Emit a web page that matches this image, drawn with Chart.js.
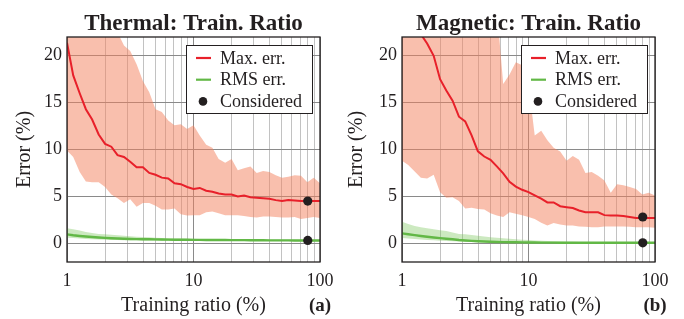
<!DOCTYPE html>
<html lang="en">
<head>
<meta charset="UTF-8">
<title>Train. Ratio</title>
<script src="https://cdn.jsdelivr.net/npm/chart.js"></script>
<style>
  body { margin: 0; background: #fff; }
  .wrap { position: relative; width: 684px; height: 319px; }
  canvas { position: absolute; top: 0; }
  #thermalChart { left: 0; }
  #magneticChart { left: 338px; }
</style>
</head>
<body>
<div class="wrap">
  <canvas id="thermalChart" width="342" height="319"></canvas>
  <canvas id="magneticChart" width="346" height="319"></canvas>
</div>
<script>
// training ratio (%) of each run, log spaced
const ratios = [1, 1.12, 1.26, 1.41, 1.58, 1.78, 2, 2.24, 2.51, 2.82, 3.16, 3.55, 3.98, 4.47, 5.01, 5.62, 6.31, 7.08, 7.94, 8.91,
                10, 11.2, 12.6, 14.1, 15.8, 17.8, 20, 22.4, 25.1, 28.2, 31.6, 35.5, 39.8, 44.7, 50.1, 56.2, 63.1, 70.8, 79.4, 89.1, 100];

// thermal
const thermalMax   = [21.4, 17.9, 16.0, 14.3, 13.2, 11.6, 10.6, 10.3, 9.4, 9.2, 8.7, 8.1, 8.1, 7.5, 7.3, 7.0, 6.9, 6.4, 6.3, 6.0,
                      5.8, 5.9, 5.6, 5.5, 5.3, 5.2, 5.2, 5.0, 5.1, 4.9, 4.85, 4.8, 4.75, 4.6, 4.5, 4.6, 4.55, 4.5, 4.5, 4.5, 4.5];
const thermalMaxHi = [26, 26, 26, 26, 26, 26, 26, 26, 22.5, 21.1, 20.5, 19.1, 17.3, 16.1, 14.3, 14.0, 13.1, 12.6, 12.7, 12.2,
                      12.6, 11.5, 10.5, 10.2, 9.0, 8.6, 9.0, 7.8, 8.0, 8.2, 7.5, 7.7, 7.6, 7.25, 7.0, 7.1, 7.25, 7.2, 6.5, 7.0, 6.4];
const thermalMaxLo = [9.9, 9.2, 7.6, 6.6, 6.5, 6.5, 6.0, 5.2, 4.8, 4.3, 4.7, 3.9, 4.3, 4.3, 4.0, 3.6, 3.6, 3.7, 3.1, 2.95,
                      3.0, 3.0, 3.3, 3.4, 3.2, 3.0, 3.0, 3.0, 2.9, 2.8, 2.75, 2.85, 2.85, 2.8, 2.75, 2.75, 2.8, 2.6, 2.7, 2.8, 2.7];
const thermalRms   = [0.95, 0.85, 0.78, 0.72, 0.66, 0.61, 0.57, 0.53, 0.5, 0.48, 0.46, 0.44, 0.43, 0.42, 0.41, 0.4, 0.39, 0.38, 0.37, 0.37,
                      0.36, 0.36, 0.35, 0.35, 0.34, 0.34, 0.33, 0.33, 0.33, 0.32, 0.32, 0.32, 0.31, 0.31, 0.31, 0.31, 0.3, 0.3, 0.3, 0.3, 0.3];
const thermalRmsHi = [1.6, 1.5, 1.35, 1.2, 1.1, 1.0, 0.95, 0.9, 0.85, 0.8, 0.75, 0.7, 0.66, 0.63, 0.6, 0.57, 0.55, 0.52, 0.5, 0.49,
                      0.47, 0.46, 0.45, 0.44, 0.43, 0.42, 0.41, 0.41, 0.4, 0.4, 0.39, 0.39, 0.38, 0.38, 0.37, 0.37, 0.37, 0.36, 0.36, 0.36, 0.36];
const thermalRmsLo = [0.6, 0.55, 0.5, 0.46, 0.43, 0.4, 0.38, 0.36, 0.34, 0.33, 0.32, 0.31, 0.3, 0.29, 0.28, 0.28, 0.27, 0.27, 0.26, 0.26,
                      0.26, 0.25, 0.25, 0.25, 0.25, 0.24, 0.24, 0.24, 0.24, 0.24, 0.24, 0.23, 0.23, 0.23, 0.23, 0.23, 0.23, 0.23, 0.23, 0.23, 0.23];
const thermalConsidered = [4.5, 0.3];

// magnetic
const magneticMax   = [26.5, 25.0, 23.3, 22.3, 21.3, 20.0, 17.5, 16.3, 15.2, 13.5, 13.0, 11.5, 9.8, 9.25, 8.9, 8.2, 7.45, 6.55, 6.05, 5.7,
                       5.45, 5.1, 4.75, 4.35, 4.35, 3.95, 3.85, 3.75, 3.5, 3.3, 3.3, 3.3, 3.0, 2.95, 2.95, 2.9, 2.8, 2.7, 2.7, 2.7, 2.7];
const magneticMaxHi = [25, 25, 25, 25, 25, 25, 25, 25, 25, 25, 25, 25, 25, 25, 25, 25, 17, 18, 19.3, 19, 
                       17, 11.5, 12.0, 11.0, 10.2, 9.8, 8.8, 9.3, 8.9, 7.5, 7.6, 7.2, 6.7, 5.4, 6.3, 6.2, 6.0, 5.8, 5.2, 5.4, 5.1];
const magneticMaxLo = [8.8, 8.35, 7.65, 7.0, 6.9, 7.3, 5.45, 4.85, 4.9, 4.5, 3.7, 3.8, 3.65, 3.6, 3.2, 2.95, 2.8, 3.3, 3.15, 3.0,
                       2.8, 2.6, 2.2, 1.9, 2.15, 2.0, 1.9, 1.9, 1.8, 1.75, 1.7, 1.7, 1.8, 1.8, 1.8, 1.8, 1.75, 1.7, 1.7, 1.7, 1.65];
const magneticRms   = [1.05, 0.96, 0.87, 0.78, 0.7, 0.62, 0.55, 0.48, 0.42, 0.35, 0.3, 0.25, 0.21, 0.18, 0.16, 0.14, 0.12, 0.11, 0.1, 0.09,
                       0.08, 0.08, 0.07, 0.07, 0.07, 0.06, 0.06, 0.06, 0.06, 0.06, 0.05, 0.05, 0.05, 0.05, 0.05, 0.05, 0.05, 0.05, 0.05, 0.05, 0.05];
const magneticRmsHi = [2.3, 2.05, 1.85, 1.7, 1.6, 1.5, 1.4, 1.3, 1.15, 1.0, 0.95, 0.88, 0.8, 0.72, 0.65, 0.6, 0.53, 0.47, 0.42, 0.38,
                       0.34, 0.3, 0.27, 0.24, 0.21, 0.19, 0.17, 0.15, 0.14, 0.13, 0.12, 0.11, 0.1, 0.1, 0.09, 0.09, 0.09, 0.08, 0.08, 0.08, 0.08];
const magneticRmsLo = [0.55, 0.5, 0.45, 0.4, 0.36, 0.32, 0.28, 0.25, 0.22, 0.19, 0.16, 0.14, 0.12, 0.1, 0.09, 0.08, 0.07, 0.06, 0.05, 0.05,
                       0.04, 0.04, 0.03, 0.03, 0.03, 0.03, 0.03, 0.03, 0.02, 0.02, 0.02, 0.02, 0.02, 0.02, 0.02, 0.02, 0.02, 0.02, 0.02, 0.02, 0.02];
const magneticConsidered = [2.8, 0.05];

const consideredRatio = 80;
const xGrid = [1, 2, 3, 4, 5, 6, 7, 8, 9, 10, 20, 30, 40, 50, 60, 70, 80, 90, 100];
const xLabeled = [1, 10, 100];
const yTicks = [0, 5, 10, 15, 20];

const ink = '#231f20';
const red = '#e8202a';
const green = '#62b846';
const serif = '"Liberation Serif", "Times New Roman", serif';

Chart.defaults.font.family = serif;
Chart.defaults.color = ink;

function pts(ys) {
    return ratios.map((x, i) => ({ x: x, y: ys[i] }));
}

// frame, title, panel tag and legend box
const panelDecor = {
    id: 'panelDecor',
    afterDraw(chart, args, opts) {
        const ctx = chart.ctx;
        const a = chart.chartArea;
        ctx.save();
        ctx.strokeStyle = ink;
        ctx.lineWidth = 1.3;
        ctx.strokeRect(a.left, a.top, a.right - a.left, a.bottom - a.top);

        ctx.fillStyle = ink;
        ctx.textAlign = 'center';
        ctx.font = 'bold 23px ' + serif;
        ctx.fillText(opts.title, (a.left + a.right) / 2, a.top - 7);
        ctx.font = 'bold 19px ' + serif;
        ctx.fillText(opts.tag, a.right, chart.height - 8);

        // legend
        const w = 126, h = 68;
        const bx = a.right - 8 - w, by = a.top + 8;
        ctx.fillStyle = '#fff';
        ctx.fillRect(bx, by, w, h);
        ctx.strokeStyle = ink;
        ctx.lineWidth = 1;
        ctx.strokeRect(bx + 0.5, by + 0.5, w, h);
        ctx.font = '18px ' + serif;
        ctx.textAlign = 'left';
        ctx.textBaseline = 'middle';
        opts.order.forEach((di, row) => {
            const ds = chart.data.datasets[di];
            const cy = by + 13 + row * 21.7;
            if (ds.showLine === false) {
                ctx.fillStyle = ds.backgroundColor;
                ctx.beginPath();
                ctx.arc(bx + 17, cy, 4.3, 0, Math.PI * 2);
                ctx.fill();
            } else {
                ctx.strokeStyle = ds.borderColor;
                ctx.lineWidth = 2.2;
                ctx.beginPath();
                ctx.moveTo(bx + 10, cy);
                ctx.lineTo(bx + 25, cy);
                ctx.stroke();
            }
            ctx.fillStyle = ink;
            ctx.fillText(ds.label, bx + 34, cy + 1);
        });
        ctx.restore();
    }
};

function makeChart(id, title, tag, yWidth, padRight, yTitlePad, d) {
    return new Chart(document.getElementById(id), {
        type: 'line',
        data: {
            datasets: [
                {
                    label: 'Considered',
                    data: d.considered.map(v => ({ x: consideredRatio, y: v })),
                    showLine: false,
                    pointRadius: 4.6,
                    pointBackgroundColor: ink,
                    pointBorderWidth: 0,
                    backgroundColor: ink
                },
                {
                    label: 'Max. err.',
                    data: pts(d.max),
                    borderColor: red,
                    borderWidth: 2,
                    pointRadius: 0,
                    tension: 0
                },
                {
                    label: 'RMS err.',
                    data: pts(d.rms),
                    borderColor: green,
                    borderWidth: 2.4,
                    pointRadius: 0,
                    tension: 0
                },
                {
                    label: 'max upper',
                    data: pts(d.maxHi),
                    borderWidth: 0,
                    pointRadius: 0,
                    fill: '+1',
                    backgroundColor: 'rgba(243, 128, 92, 0.5)'
                },
                {
                    label: 'max lower',
                    data: pts(d.maxLo),
                    borderWidth: 0,
                    pointRadius: 0,
                    fill: false
                },
                {
                    label: 'rms upper',
                    data: pts(d.rmsHi),
                    borderWidth: 0,
                    pointRadius: 0,
                    fill: '+1',
                    backgroundColor: 'rgba(120, 196, 90, 0.38)'
                },
                {
                    label: 'rms lower',
                    data: pts(d.rmsLo),
                    borderWidth: 0,
                    pointRadius: 0,
                    fill: false
                }
            ]
        },
        options: {
            responsive: false,
            animation: false,
            devicePixelRatio: 1,
            layout: { padding: { top: 37, right: padRight, left: 0, bottom: 0 } },
            plugins: {
                legend: { display: false },
                tooltip: { enabled: false },
                panelDecor: { title: title, tag: tag, order: [1, 2, 0] }
            },
            scales: {
                x: {
                    type: 'logarithmic',
                    min: 1,
                    max: 100,
                    afterBuildTicks: axis => { axis.ticks = xGrid.map(v => ({ value: v })); },
                    afterFit: scale => { scale.height = 57; },
                    ticks: {
                        autoSkip: false,
                        maxRotation: 0,
                        padding: 8,
                        font: { size: 18 },
                        callback: v => xLabeled.includes(v) ? String(v) : ''
                    },
                    grid: {
                        drawTicks: false,
                        color: c => xLabeled.includes(c.tick.value) ? '#8a8a8a' : '#c2c2c2'
                    },
                    border: { display: false },
                    title: { display: true, text: 'Training ratio (%)', font: { size: 20 }, padding: 1 }
                },
                y: {
                    min: -2,
                    max: 22,
                    afterBuildTicks: axis => { axis.ticks = yTicks.map(v => ({ value: v })); },
                    afterFit: scale => { scale.width = yWidth; },
                    ticks: { padding: 5, font: { size: 18 } },
                    grid: { drawTicks: false, color: '#8a8a8a' },
                    border: { display: false },
                    title: { display: true, text: 'Error (%)', font: { size: 20 }, padding: yTitlePad }
                }
            }
        },
        plugins: [panelDecor]
    });
}

makeChart('thermalChart', 'Thermal: Train. Ratio', '(a)', 67, 22, 13, {
    max: thermalMax, maxHi: thermalMaxHi, maxLo: thermalMaxLo,
    rms: thermalRms, rmsHi: thermalRmsHi, rmsLo: thermalRmsLo,
    considered: thermalConsidered
});

makeChart('magneticChart', 'Magnetic: Train. Ratio', '(b)', 64, 29, 7, {
    max: magneticMax, maxHi: magneticMaxHi, maxLo: magneticMaxLo,
    rms: magneticRms, rmsHi: magneticRmsHi, rmsLo: magneticRmsLo,
    considered: magneticConsidered
});
</script>
</body>
</html>
